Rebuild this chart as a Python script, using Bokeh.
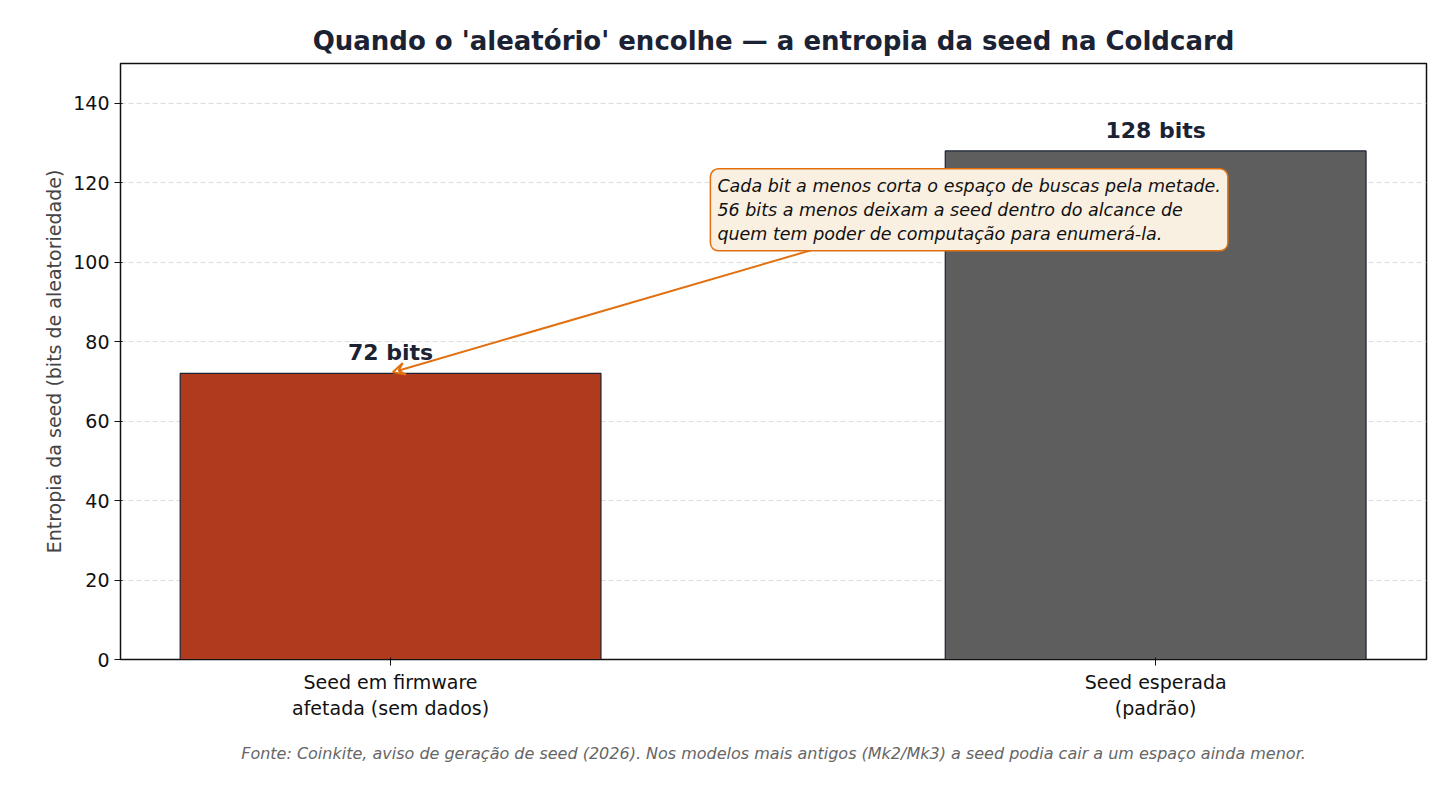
from bokeh.plotting import figure
from bokeh.models import Range1d, FixedTicker, Label, Arrow, VeeHead, Title
from bokeh.embed import file_html
from bokeh.resources import INLINE

categories = ["Seed em firmware\nafetada (sem dados)", "Seed esperada\n(padrão)"]
values = [72, 128]
colors = ["#b03a1e", "#5e5e5e"]
bar_labels = ["72 bits", "128 bits"]
yticks = [0, 20, 40, 60, 80, 100, 120, 140]

p = figure(width=1440, height=782, output_backend="svg", toolbar_location=None,
           x_range=Range1d(-0.353, 1.354), y_range=Range1d(0, 150),
           min_border_left=120, min_border_right=14, min_border_top=63)
p.title.text = "Quando o 'aleatório' encolhe — a entropia da seed na Coldcard"
p.title.align = "center"
p.title.text_font = "DejaVu Sans"
p.title.text_font_size = "26px"
p.title.text_color = "#1a2233"
p.title.standoff = 16

xs = list(range(len(values)))
p.vbar(x=xs, top=values, width=0.55, fill_color=colors, line_color="#1a2233", line_width=1.2)
for x, v, t in zip(xs, values, bar_labels):
    p.add_layout(Label(x=x, y=v + 2, text=t, text_align="center", text_baseline="bottom",
                       text_font="DejaVu Sans", text_font_style="bold", text_font_size="22px",
                       text_color="#1a2233"))

p.add_layout(Arrow(end=VeeHead(size=12, line_color="#e07010", line_width=2, fill_color=None),
                   x_start=0.578, y_start=104.6, x_end=0.003, y_end=72.3,
                   line_color="#e07010", line_width=2))
p.add_layout(Label(x=0.418, y=123.5,
                   text="Cada bit a menos corta o espaço de buscas pela metade.\n56 bits a menos deixam a seed dentro do alcance de\nquem tem poder de computação para enumerá-la.",
                   text_align="left", text_baseline="top", text_font="DejaVu Sans",
                   text_font_style="italic", text_font_size="17.5px", text_color="#111111",
                   background_fill_color="#faf0e2", border_line_color="#e07010",
                   border_line_width=1.5, padding=7, border_radius=8))

p.xaxis.ticker = FixedTicker(ticks=xs)
p.xaxis.major_label_overrides = {i: c for i, c in enumerate(categories)}
p.yaxis.ticker = FixedTicker(ticks=yticks)
p.yaxis.axis_label = "Entropia da seed (bits de aleatoriedade)"
for ax in (p.xaxis, p.yaxis):
    ax.major_label_text_font = "DejaVu Sans"
    ax.major_label_text_font_size = "19px"
    ax.major_label_text_color = "#111111"
    ax.axis_line_color = "#111111"
    ax.major_tick_line_color = "#111111"
    ax.minor_tick_line_color = None
p.yaxis.axis_label_text_font = "DejaVu Sans"
p.yaxis.axis_label_text_font_size = "19px"
p.yaxis.axis_label_text_font_style = "normal"
p.xgrid.grid_line_color = None
p.ygrid.grid_line_color = "#dddddd"
p.ygrid.grid_line_dash = "5 3"
p.outline_line_color = "#111111"
p.outline_line_width = 1.5

p.add_layout(Title(text="Fonte: Coinkite, aviso de geração de seed (2026). Nos modelos mais antigos (Mk2/Mk3) a seed podia cair a um espaço ainda menor.",
                   align="center", text_font="DejaVu Sans", text_font_style="italic",
                   text_font_size="16px", text_color="#666666", standoff=40), "below")

open("out.html", "w").write(file_html(p, INLINE))
